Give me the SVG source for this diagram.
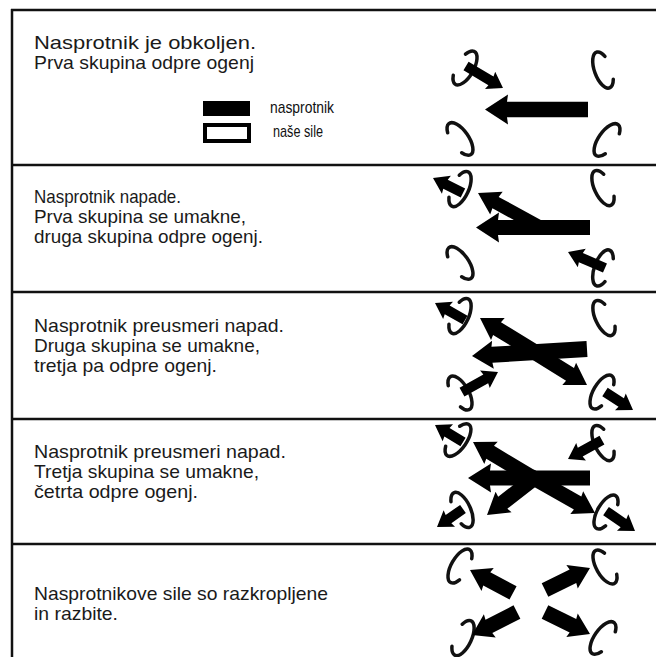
<svg xmlns="http://www.w3.org/2000/svg" xmlns:xlink="http://www.w3.org/1999/xlink" width="656" height="657" viewBox="0 0 656 657">
<style>
.txt{font-family:"Liberation Sans",Arial,sans-serif;font-size:19px;fill:#1a1a1a}
.leg{font-family:"Liberation Sans",Arial,sans-serif;font-size:17px;fill:#111}
.rule{stroke:#111;stroke-width:2.5;fill:none}
.arr{fill:#000}
</style>
<defs>
<path id="u" d="M6.5,-12.2 A8.5,19 0 1 0 6.5,12.2" fill="none" stroke="#111" stroke-width="3.5" stroke-linecap="round"/>
</defs>
<rect width="656" height="657" fill="#fff"/>
<g id="frame">
<line class="rule" x1="12" y1="9" x2="12" y2="657"/>
<line class="rule" x1="11" y1="10" x2="656" y2="10" stroke-width="3"/>
<line class="rule" x1="12" y1="165" x2="656" y2="165"/>
<line class="rule" x1="12" y1="292" x2="656" y2="292"/>
<line class="rule" x1="12" y1="419" x2="656" y2="419"/>
<line class="rule" x1="12" y1="544" x2="656" y2="544"/>
</g>

<g id="panel1">
<text class="txt" x="34" y="49" textLength="222" lengthAdjust="spacingAndGlyphs">Nasprotnik je obkoljen.</text>
<text class="txt" x="34" y="69" textLength="220" lengthAdjust="spacingAndGlyphs">Prva skupina odpre ogenj</text>
<g id="legend">
<rect x="203" y="101" width="47" height="15" fill="#000"/>
<rect x="205" y="125" width="44" height="16" fill="none" stroke="#000" stroke-width="4"/>
<text class="leg" x="270" y="113" textLength="64" lengthAdjust="spacingAndGlyphs">nasprotnik</text>
<text class="leg" x="273" y="137" textLength="50" lengthAdjust="spacingAndGlyphs">naše sile</text>
</g>
<g id="p1-units">
<use href="#u" transform="translate(465,68) rotate(30) scale(-1,1)"/>
<use href="#u" transform="translate(603,70) rotate(-20)"/>
<use href="#u" transform="translate(460,139) rotate(-35) scale(-1,1)"/>
<use href="#u" transform="translate(607,140) rotate(35)"/>
</g>
<g id="p1-arrows" class="arr">
<polygon transform="translate(485,109.5) rotate(180)" points="-103,-7.8 -22,-7.8 -23,-15 0,0 -23,15 -22,7.8 -103,7.8"/>
<polygon transform="translate(503,88) rotate(30.7)" points="-43,-5 -14,-5 -15,-10 0,0 -15,10 -14,5 -43,5"/>
</g>
</g>

<g id="panel2">
<text class="txt" x="34" y="203" textLength="147" lengthAdjust="spacingAndGlyphs">Nasprotnik napade.</text>
<text class="txt" x="34" y="223" textLength="212" lengthAdjust="spacingAndGlyphs">Prva skupina se umakne,</text>
<text class="txt" x="34" y="243" textLength="229" lengthAdjust="spacingAndGlyphs">druga skupina odpre ogenj.</text>
<g id="p2-units">
<use href="#u" transform="translate(460,189) rotate(25) scale(-1,1)"/>
<use href="#u" transform="translate(603,188) rotate(-25)"/>
<use href="#u" transform="translate(460,263) rotate(-35) scale(-1,1)"/>
<use href="#u" transform="translate(603,268) rotate(20)"/>
</g>
<g id="p2-arrows" class="arr">
<polygon transform="translate(476,227.5) rotate(180)" points="-114,-7.5 -22,-7.5 -23,-15 0,0 -23,15 -22,7.5 -114,7.5"/>
<polygon transform="translate(478,193) rotate(208.7)" points="-70.7,-6.5 -20,-6.5 -21,-13 0,0 -21,13 -20,6.5 -70.7,6.5"/>
<polygon transform="translate(433,178) rotate(206.6)" points="-33.5,-5 -14,-5 -15,-10 0,0 -15,10 -14,5 -33.5,5"/>
<polygon transform="translate(568,252) rotate(203.4)" points="-40.3,-5 -14,-5 -15,-10 0,0 -15,10 -14,5 -40.3,5"/>
</g>
</g>

<g id="panel3">
<text class="txt" x="34" y="332" textLength="250" lengthAdjust="spacingAndGlyphs">Nasprotnik preusmeri napad.</text>
<text class="txt" x="34" y="352" textLength="226" lengthAdjust="spacingAndGlyphs">Druga skupina se umakne,</text>
<text class="txt" x="34" y="372" textLength="183" lengthAdjust="spacingAndGlyphs">tretja pa odpre ogenj.</text>
<g id="p3-units">
<use href="#u" transform="translate(460,316) rotate(25) scale(-1,1)"/>
<use href="#u" transform="translate(604,318) rotate(-25)"/>
<use href="#u" transform="translate(460,393) rotate(-30) scale(-1,1)"/>
<use href="#u" transform="translate(602,392) rotate(30)"/>
</g>
<g id="p3-arrows" class="arr">
<polygon transform="translate(472,356) rotate(176.5)" points="-115.2,-8 -20,-8 -21,-14 0,0 -21,14 -20,8 -115.2,8"/>
<polygon transform="translate(480,318) rotate(211.7)" points="-64.7,-7.5 -20,-7.5 -21,-13 0,0 -21,13 -20,7.5 -64.7,7.5"/>
<polygon transform="translate(587,385) rotate(32)" points="-66,-7.5 -20,-7.5 -21,-13 0,0 -21,13 -20,7.5 -66,7.5"/>
<polygon transform="translate(435,303) rotate(209.5)" points="-34.5,-5 -14,-5 -15,-10 0,0 -15,10 -14,5 -34.5,5"/>
<polygon transform="translate(498,372) rotate(-29.05)" points="-41.2,-5 -14,-5 -15,-10 0,0 -15,10 -14,5 -41.2,5"/>
<polygon transform="translate(633,410) rotate(32.7)" points="-33.3,-5 -14,-5 -15,-10 0,0 -15,10 -14,5 -33.3,5"/>
</g>
</g>

<g id="panel4">
<text class="txt" x="34" y="458" textLength="252" lengthAdjust="spacingAndGlyphs">Nasprotnik preusmeri napad.</text>
<text class="txt" x="34" y="478" textLength="225" lengthAdjust="spacingAndGlyphs">Tretja skupina se umakne,</text>
<text class="txt" x="34" y="498" textLength="164" lengthAdjust="spacingAndGlyphs">četrta odpre ogenj.</text>
<g id="p4-units">
<use href="#u" transform="translate(458,440) rotate(35) scale(-1,1)"/>
<use href="#u" transform="translate(603,443) rotate(-25)"/>
<use href="#u" transform="translate(462,510) rotate(-25) scale(-1,1)"/>
<use href="#u" transform="translate(606,512) rotate(30)"/>
</g>
<g id="p4-arrows" class="arr">
<polygon transform="translate(468,478) rotate(180)" points="-122,-7.5 -22,-7.5 -23,-14.5 0,0 -23,14.5 -22,7.5 -122,7.5"/>
<polygon transform="translate(473,442) rotate(211)" points="-70,-7.5 -20,-7.5 -21,-13 0,0 -21,13 -20,7.5 -70,7.5"/>
<polygon transform="translate(595,513) rotate(29.65)" points="-74.8,-7.5 -20,-7.5 -21,-13 0,0 -21,13 -20,7.5 -74.8,7.5"/>
<polygon transform="translate(487,515) rotate(142.1)" points="-57,-7.5 -20,-7.5 -21,-13 0,0 -21,13 -20,7.5 -57,7.5"/>
<polygon transform="translate(435,425) rotate(211.3)" points="-32.8,-5 -14,-5 -15,-10 0,0 -15,10 -14,5 -32.8,5"/>
<polygon transform="translate(568,459) rotate(150.8)" points="-38.9,-5 -14,-5 -15,-10 0,0 -15,10 -14,5 -38.9,5"/>
<polygon transform="translate(437,527) rotate(145.3)" points="-31.6,-5 -14,-5 -15,-10 0,0 -15,10 -14,5 -31.6,5"/>
<polygon transform="translate(635,531) rotate(34.6)" points="-35.2,-5 -14,-5 -15,-10 0,0 -15,10 -14,5 -35.2,5"/>
</g>
</g>

<g id="panel5">
<text class="txt" x="34" y="600" textLength="294" lengthAdjust="spacingAndGlyphs">Nasprotnikove sile so razkropljene</text>
<text class="txt" x="34" y="620" textLength="84" lengthAdjust="spacingAndGlyphs">in razbite.</text>
<g id="p5-units">
<use href="#u" transform="translate(460,566) rotate(30)"/>
<use href="#u" transform="translate(605,567) rotate(-30)"/>
<use href="#u" transform="translate(463,638) rotate(25) scale(-1,1)"/>
<use href="#u" transform="translate(603,638) rotate(35)"/>
</g>
<g id="p5-arrows" class="arr">
<polygon transform="translate(470,570) rotate(208.1)" points="-48.8,-7.5 -19,-7.5 -20,-13 0,0 -20,13 -19,7.5 -48.8,7.5"/>
<polygon transform="translate(590,568) rotate(-26.1)" points="-50.1,-7.5 -19,-7.5 -20,-13 0,0 -20,13 -19,7.5 -50.1,7.5"/>
<polygon transform="translate(472,635) rotate(152.9)" points="-50.5,-7.5 -19,-7.5 -20,-13 0,0 -20,13 -19,7.5 -50.5,7.5"/>
<polygon transform="translate(590,634) rotate(26.05)" points="-50.1,-7.5 -19,-7.5 -20,-13 0,0 -20,13 -19,7.5 -50.1,7.5"/>
</g>
</g>
</svg>
